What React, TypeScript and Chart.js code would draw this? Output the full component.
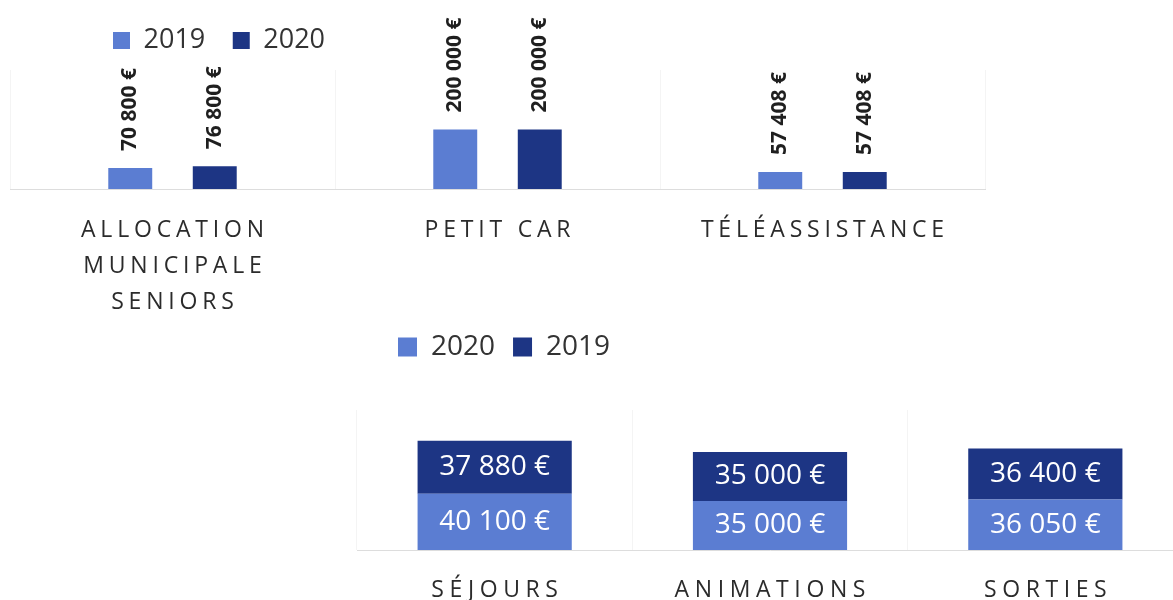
import React, { useEffect, useRef } from "react";
import { Chart, registerables } from "chart.js";

Chart.register(...registerables);

const FONT = "'Open Sans', 'Noto Sans', sans-serif";

// ---- Top chart data ----
const topCategories: string[][] = [
  ["ALLOCATION", "MUNICIPALE", "SENIORS"],
  ["PETIT CAR"],
  ["TÉLÉASSISTANCE"],
];
const topSeriesLabels = ["2019", "2020"];
const top2019 = [70800, 200000, 57408];
const top2020 = [76800, 200000, 57408];

// ---- Bottom chart data ----
const bottomCategories = ["SÉJOURS", "ANIMATIONS", "SORTIES"];
const bottomSeriesLabels = ["2020", "2019"];
const bottom2020 = [40100, 35000, 36050];
const bottom2019 = [37880, 35000, 36400];

const LIGHT = "#5b7dd2";
const DARK = "#1d3584";

function euro(v: number): string {
  return String(v).replace(/\B(?=(\d{3})+(?!\d))/g, " ") + " €";
}

const legendShift = {
  id: "legendShift",
  afterLayout(chart: any, _args: any, opts: any) {
    const lg = chart.legend;
    if (!lg) return;
    const dx = opts.dx || 0;
    const dy = opts.dy || 0;
    lg.left += dx;
    lg.right += dx;
    lg.top += dy;
    lg.bottom += dy;
  },
};

const categoryLabels = {
  id: "categoryLabels",
  afterDraw(chart: any, _args: any, opts: any) {
    const { ctx, chartArea } = chart;
    const x = chart.scales.x;
    ctx.save();
    ctx.font = `${opts.size}px ${FONT}`;
    ctx.fillStyle = opts.color;
    ctx.textAlign = "center";
    ctx.textBaseline = "middle";
    (ctx as any).letterSpacing = `${opts.spacing}px`;
    (chart.data.labels as any[]).forEach((lab: any, i: number) => {
      const lines: string[] = Array.isArray(lab) ? lab : [lab];
      const cx = x.getPixelForValue(i) + opts.spacing / 2;
      lines.forEach((ln, j) => {
        ctx.fillText(ln, cx, chartArea.bottom + opts.offset + j * opts.lineHeight);
      });
    });
    (ctx as any).letterSpacing = "0px";
    ctx.restore();
  },
};

const verticalValueLabels = {
  id: "verticalValueLabels",
  afterDatasetsDraw(chart: any, _args: any, opts: any) {
    if (!opts || !opts.enabled) return;
    const { ctx } = chart;
    chart.data.datasets.forEach((ds: any, di: number) => {
      const meta = chart.getDatasetMeta(di);
      meta.data.forEach((el: any, i: number) => {
        ctx.save();
        ctx.translate(el.x, el.y - opts.gap);
        ctx.rotate(-Math.PI / 2);
        ctx.font = `bold ${opts.size}px ${FONT}`;
        ctx.fillStyle = opts.color;
        ctx.textAlign = "left";
        ctx.textBaseline = "middle";
        ctx.fillText(euro(ds.data[i]), 0, 0);
        ctx.restore();
      });
    });
  },
};

const insideValueLabels = {
  id: "insideValueLabels",
  afterDatasetsDraw(chart: any, _args: any, opts: any) {
    if (!opts || !opts.enabled) return;
    const { ctx } = chart;
    chart.data.datasets.forEach((ds: any, di: number) => {
      const meta = chart.getDatasetMeta(di);
      meta.data.forEach((el: any, i: number) => {
        const p = el.getCenterPoint();
        ctx.save();
        ctx.font = `${opts.size}px ${FONT}`;
        ctx.fillStyle = opts.color;
        ctx.textAlign = "center";
        ctx.textBaseline = "middle";
        ctx.fillText(euro(ds.data[i]), p.x, p.y);
        ctx.restore();
      });
    });
  },
};

export default function App() {
  const topRef = useRef<HTMLCanvasElement>(null);
  const botRef = useRef<HTMLCanvasElement>(null);

  useEffect(() => {
    const topChart = new Chart(topRef.current as HTMLCanvasElement, {
      type: "bar",
      data: {
        labels: topCategories as any,
        datasets: [
          {
            label: topSeriesLabels[0],
            data: top2019,
            backgroundColor: LIGHT,
            borderWidth: 0,
            categoryPercentage: 0.52,
            barPercentage: 0.52,
          },
          {
            label: topSeriesLabels[1],
            data: top2020,
            backgroundColor: DARK,
            borderWidth: 0,
            categoryPercentage: 0.52,
            barPercentage: 0.52,
          },
        ],
      },
      options: {
        responsive: false,
        animation: false,
        layout: { padding: { left: 10, right: 15, top: 5.5, bottom: 131 } },
        plugins: {
          legend: {
            position: "top",
            align: "start",
            labels: {
              boxWidth: 17,
              boxHeight: 17,
              padding: 27.5,
              color: "#333333",
              font: { family: FONT, size: 27 },
            },
          },
          tooltip: { enabled: false },
          legendShift: { dx: 75.5, dy: -6 },
          categoryLabels: { size: 23, spacing: 4.8, color: "#2b2b2b", offset: 41, lineHeight: 36 },
          verticalValueLabels: { enabled: true, size: 21, gap: 17, color: "#1f1f1f" },
          insideValueLabels: { enabled: false },
        } as any,
        scales: {
          x: {
            grid: { display: true, drawTicks: false, color: "#f4f4f4", offset: true },
            border: { display: true, color: "#dddddd" },
            ticks: { display: false },
          },
          y: { display: false, min: 0, max: 400000 },
        },
      },
      plugins: [legendShift, categoryLabels, verticalValueLabels, insideValueLabels],
    });

    const botChart = new Chart(botRef.current as HTMLCanvasElement, {
      type: "bar",
      data: {
        labels: bottomCategories,
        datasets: [
          {
            label: bottomSeriesLabels[0],
            data: bottom2020,
            backgroundColor: LIGHT,
            borderWidth: 0,
            categoryPercentage: 1,
            barPercentage: 0.56,
          },
          {
            label: bottomSeriesLabels[1],
            data: bottom2019,
            backgroundColor: DARK,
            borderWidth: 0,
            categoryPercentage: 1,
            barPercentage: 0.56,
          },
        ],
      },
      options: {
        responsive: false,
        animation: false,
        layout: { padding: { left: 17, right: 17, top: 34, bottom: 50 } },
        plugins: {
          legend: {
            position: "top",
            align: "start",
            labels: {
              boxWidth: 19,
              boxHeight: 19,
              padding: 18,
              color: "#333333",
              font: { family: FONT, size: 28 },
            },
          },
          tooltip: { enabled: false },
          legendShift: { dx: 23, dy: -39 },
          categoryLabels: { size: 23, spacing: 5.6, color: "#2b2b2b", offset: 40, lineHeight: 36 },
          verticalValueLabels: { enabled: false },
          insideValueLabels: { enabled: true, size: 28, color: "#ffffff" },
        } as any,
        scales: {
          x: {
            stacked: true,
            grid: { display: true, drawTicks: false, color: "#f4f4f4", offset: true },
            border: { display: true, color: "#dddddd" },
            ticks: { display: false },
          },
          y: { stacked: true, display: false, min: 0, max: 100000 },
        },
      },
      plugins: [legendShift, categoryLabels, verticalValueLabels, insideValueLabels],
    });

    return () => {
      topChart.destroy();
      botChart.destroy();
    };
  }, []);

  return (
    <div
      style={{
        position: "absolute",
        left: 0,
        top: 0,
        width: 1173,
        height: 600,
        overflow: "hidden",
        background: "#ffffff",
      }}
    >
      <canvas
        ref={topRef}
        width={1000}
        height={320}
        style={{ position: "absolute", left: 0, top: 0, width: 1000, height: 320 }}
      />
      <canvas
        ref={botRef}
        width={860}
        height={280}
        style={{ position: "absolute", left: 340, top: 320, width: 860, height: 280 }}
      />
    </div>
  );
}
